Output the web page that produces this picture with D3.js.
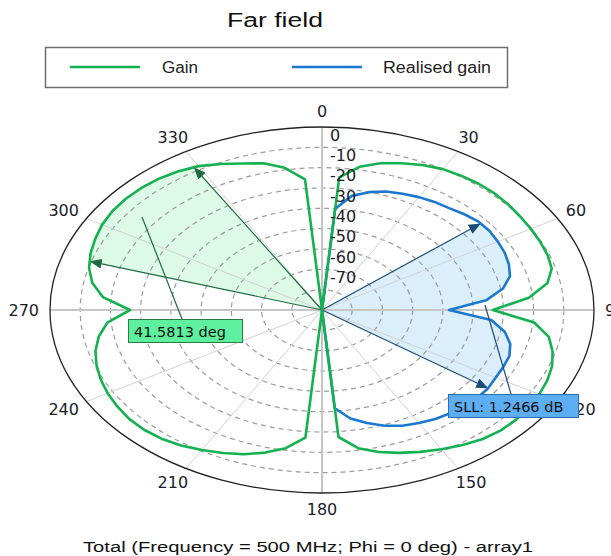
<!DOCTYPE html>
<html>
<head>
<meta charset="utf-8">
<script src="https://cdn.jsdelivr.net/npm/d3@7"></script>
<style>
  body { margin: 0; background: #fff; }
  svg { display: block; }
</style>
</head>
<body>
<svg id="chart" width="611" height="556"></svg>
<script>
// theta (deg), 5 degree steps
const angles = [0,5,10,15,20,25,30,35,40,45,50,55,60,65,70,75,80,85,90,95,100,105,110,115,
  120,125,130,135,140,145,150,155,160,165,170,175,180,185,190,195,200,205,210,215,220,225,230,235,
  240,245,250,255,260,265,270,275,280,285,290,295,300,305,310,315,320,325,330,335,340,345,350,355];

// Gain (dB)
const gain = [-90,-24.5,-18.5,-15.3,-13.2,-11.3,-10,-9.5,-9.1,-9.1,-9.4,-9.9,-10.2,-10.4,-10.6,-11.3,-14.3,-21.3,
  -33.5,-19.5,-13.8,-11,-9,-7.8,-7,-6.4,-6.1,-6.3,-7.2,-8.9,-10.9,-13,-15.2,-17.7,-21,-27.3,
  -90,-27,-21,-17.4,-14.5,-12.4,-10.5,-8.7,-7.4,-6.7,-6.7,-7.3,-8.1,-9.2,-10.6,-12.4,-15,-18.7,
  -26.5,-17.2,-12.8,-10.2,-8.5,-7.2,-6,-5.3,-5.1,-5.3,-5.8,-6.8,-8.3,-10.8,-13.3,-15.3,-19,-25.5];

// Realised gain (dB), below the plot floor on the left half
const realisedGain = [-90,-40,-33,-30,-28,-26.9,-25.9,-25.1,-24.6,-23.4,-22.4,-22.3,-22.8,-23.3,-24.2,-25.6,-29.2,-35.5,
  -48,-33.8,-28.6,-25.5,-24,-23.8,-23.6,-22.9,-22.8,-23,-23.8,-24.6,-25.8,-27.2,-29.4,-32.5,-35.8,-41.5,
  -90,-90,-90,-90,-90,-90,-90,-90,-90,-90,-90,-90,-90,-90,-90,-90,-90,-90,
  -90,-90,-90,-90,-90,-90,-90,-90,-90,-90,-90,-90,-90,-90,-90,-90,-90,-90];

const ringLevels = [0,-10,-20,-30,-40,-50,-60,-70,-80];
const ringLabels = ["0","-10","-20","-30","-40","-50","-60","-70"];
const spokeAngles = [0,30,60,90,120,150,180,210,240,270,300,330];

// markers
const beamAngles = [287.3, 328.88];
const beamText = "41.5813 deg";
const sllAngles = [51, 125];
const sllText = "SLL: 1.2466 dB";

const cx = 322, cy = 310, rx = 272, ry = 183;
const green = "#14b150", blue = "#1a78d0";

const svg = d3.select("#chart");
const r = d3.scaleLinear().domain([-90, 0]).range([0, 1]).clamp(true);
const rad = d => d * Math.PI / 180;
const pt = (a, db) => [cx + rx * r(db) * Math.sin(rad(a)), cy - ry * r(db) * Math.cos(rad(a))];

// where the ray at angle a crosses the drawn (straight segment) curve
function tip(vals, a) {
  const i = Math.floor(a / 5) % angles.length, j = (i + 1) % angles.length;
  const P = pt(angles[i], vals[i]), Q = pt(angles[j], vals[j]);
  const d = [rx * Math.sin(rad(a)), -ry * Math.cos(rad(a))];
  const e = [Q[0] - P[0], Q[1] - P[1]];
  const w = [P[0] - cx, P[1] - cy];
  const cross = (u, v) => u[0] * v[1] - u[1] * v[0];
  const s = cross(w, d) / cross(d, e);
  return [P[0] + s * e[0], P[1] + s * e[1]];
}

function wedge(vals, a1, a2) {
  const pts = [[cx, cy], tip(vals, a1)];
  angles.forEach((a, i) => { if (a > a1 && a < a2) pts.push(pt(a, vals[i])); });
  pts.push(tip(vals, a2));
  return pts;
}

// title
svg.append("text")
  .attr("x", 275).attr("y", 27)
  .attr("text-anchor", "middle")
  .attr("font-family", "Liberation Sans, Arial, sans-serif")
  .attr("font-size", 19.5)
  .attr("textLength", 96).attr("lengthAdjust", "spacingAndGlyphs")
  .attr("fill", "#111")
  .text("Far field");

// legend
const legend = svg.append("g");
legend.append("rect")
  .attr("x", 45.5).attr("y", 47.5).attr("width", 462).attr("height", 40)
  .attr("fill", "#fff").attr("stroke", "#6e6e6e").attr("stroke-width", 1.5);
[[green, "Gain", 70, 162, 36], [blue, "Realised gain", 292, 383, 108]].forEach(([c, t, lx, tx, tl]) => {
  legend.append("line")
    .attr("x1", lx).attr("x2", lx + 70).attr("y1", 67).attr("y2", 67)
    .attr("stroke", c).attr("stroke-width", 2.5);
  legend.append("text")
    .attr("x", tx).attr("y", 72.5)
    .attr("font-family", "Liberation Sans, Arial, sans-serif")
    .attr("font-size", 16)
    .attr("textLength", tl).attr("lengthAdjust", "spacingAndGlyphs")
    .attr("fill", "#222")
    .text(t);
});

// arrow heads
const defs = svg.append("defs");
[["arrG", "#1d6b42"], ["arrB", "#1b4c78"]].forEach(([id, c]) => {
  defs.append("marker")
    .attr("id", id)
    .attr("markerUnits", "userSpaceOnUse")
    .attr("markerWidth", 13).attr("markerHeight", 10)
    .attr("refX", 12).attr("refY", 5)
    .attr("orient", "auto")
    .append("path").attr("d", "M0,0 L12,5 L0,10 Z").attr("fill", c);
});

const line = d3.line();

// shaded wedges
svg.append("path")
  .attr("d", line(wedge(gain, beamAngles[0], beamAngles[1])) + "Z")
  .attr("fill", "#dcfae6");
svg.append("path")
  .attr("d", line(wedge(realisedGain, sllAngles[0], sllAngles[1])) + "Z")
  .attr("fill", "#dbeefc");

// grid
const grid = svg.append("g");
ringLevels.slice(1).forEach(db => {
  grid.append("ellipse")
    .attr("cx", cx).attr("cy", cy)
    .attr("rx", rx * r(db)).attr("ry", ry * r(db))
    .attr("fill", "none").attr("stroke", "#9c9c9c")
    .attr("stroke-width", 1.2).attr("stroke-dasharray", "5,4");
});
spokeAngles.forEach(a => {
  const [x, y] = pt(a, 0);
  const main = a % 90 === 0;
  grid.append("line")
    .attr("x1", cx).attr("y1", cy).attr("x2", x).attr("y2", y)
    .attr("stroke", main ? "#c6c6c6" : "#d2d2d2")
    .attr("stroke-width", main ? 2 : 1);
});
grid.append("ellipse")
  .attr("cx", cx).attr("cy", cy).attr("rx", rx).attr("ry", ry)
  .attr("fill", "none").attr("stroke", "#222").attr("stroke-width", 1.3);

// arrows
beamAngles.forEach(a => {
  const [x, y] = tip(gain, a);
  svg.append("line").attr("x1", cx).attr("y1", cy).attr("x2", x).attr("y2", y)
    .attr("stroke", "#1d6b42").attr("stroke-width", 1.2).attr("marker-end", "url(#arrG)");
});
sllAngles.forEach(a => {
  const [x, y] = tip(realisedGain, a);
  svg.append("line").attr("x1", cx).attr("y1", cy).attr("x2", x).attr("y2", y)
    .attr("stroke", "#1b4c78").attr("stroke-width", 1.2).attr("marker-end", "url(#arrB)");
});

// curves (closed), realised gain under gain
const curve = vals => line(angles.map((a, i) => pt(a, vals[i]))) + "Z";
svg.append("path").attr("d", curve(realisedGain))
  .attr("fill", "none").attr("stroke", blue).attr("stroke-width", 2.6).attr("stroke-linejoin", "round");
svg.append("path").attr("d", curve(gain))
  .attr("fill", "none").attr("stroke", green).attr("stroke-width", 2.6).attr("stroke-linejoin", "round");

// radial labels
ringLabels.forEach((t, i) => {
  svg.append("text")
    .attr("x", 330).attr("y", pt(0, ringLevels[i])[1] + 8)
    .attr("dominant-baseline", "central")
    .attr("font-family", "DejaVu Sans, Verdana, sans-serif")
    .attr("font-size", 16).attr("fill", "#1c1c2a")
    .text(t);
});

// angle labels
spokeAngles.forEach(a => {
  const s = Math.sin(rad(a)), c = Math.cos(rad(a));
  const [ex, ey] = pt(a, 0);
  const txt = svg.append("text")
    .attr("text-anchor", "middle").attr("dominant-baseline", "central")
    .attr("font-family", "DejaVu Sans, Verdana, sans-serif")
    .attr("font-size", 16).attr("fill", "#1c1c2a")
    .text(a);
  const w = txt.node().getComputedTextLength();
  txt.attr("x", ex + s * 11 + s * w / 2).attr("y", ey - c * 10 - c * 6);
});

// leader lines + label boxes
svg.append("line").attr("x1", 142).attr("y1", 217).attr("x2", 182).attr("y2", 319)
  .attr("stroke", "#1d6b42").attr("stroke-width", 1.2);
svg.append("line").attr("x1", 485).attr("y1", 305).attr("x2", 511).attr("y2", 394)
  .attr("stroke", "#1b4c78").attr("stroke-width", 1.2);

function labelBox(x, y, w, h, fill, stroke, t) {
  svg.append("rect").attr("x", x + 0.5).attr("y", y + 0.5).attr("width", w).attr("height", h)
    .attr("fill", fill).attr("stroke", stroke).attr("stroke-width", 1);
  svg.append("text").attr("x", x + 6).attr("y", y + h / 2 + 1)
    .attr("dominant-baseline", "central")
    .attr("font-family", "DejaVu Sans, Verdana, sans-serif")
    .attr("font-size", 14.5).attr("fill", "#111")
    .text(t);
}
labelBox(128, 319, 114, 23, "#5ef09e", "#2a7a4a", beamText);
labelBox(448, 394, 130, 23, "#5caef3", "#2f6fb0", sllText);

// footer
svg.append("text")
  .attr("x", 83).attr("y", 551.5)
  .attr("font-family", "Liberation Sans, Arial, sans-serif")
  .attr("font-size", 15.5)
  .attr("textLength", 450).attr("lengthAdjust", "spacingAndGlyphs")
  .attr("fill", "#111")
  .text("Total (Frequency = 500 MHz; Phi = 0 deg) - array1");
</script>
</body>
</html>
